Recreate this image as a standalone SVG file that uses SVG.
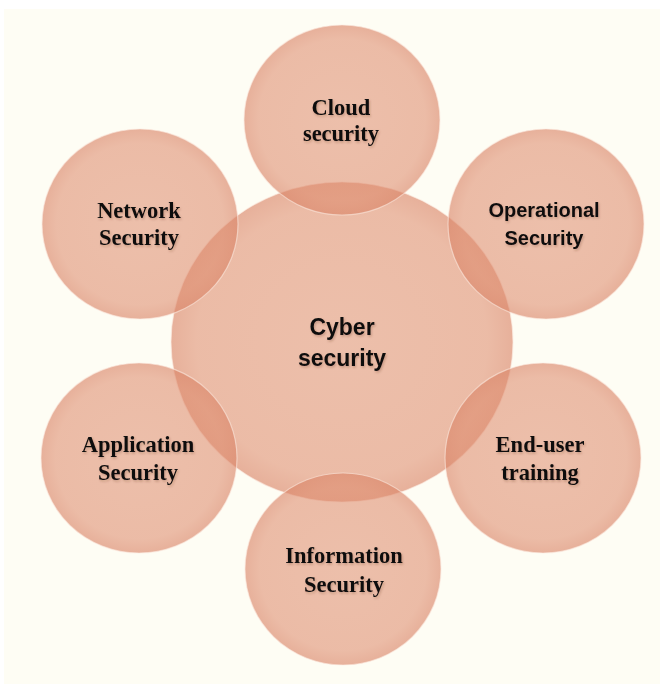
<svg xmlns="http://www.w3.org/2000/svg" width="660" height="684" viewBox="0 0 660 684">
  <style>
    .bubble { fill: url(#bubbleFill); stroke: #fbe9e0; stroke-width: 1.2; stroke-opacity: 0.6; }
    .serif { font-family: "Liberation Serif", "Times New Roman", serif; font-weight: bold; font-size: 22.5px; fill: #111; text-anchor: middle; }
    .sans { font-family: "Liberation Sans", Arial, sans-serif; font-weight: bold; font-size: 20px; fill: #111; text-anchor: middle; }
    .hub { font-size: 23px; }
    .lbl { filter: url(#textShadow); }
  </style>
  <defs>
    <radialGradient id="bubbleFill" cx="50%" cy="50%" r="50%">
      <stop offset="0%" stop-color="#de8c6e" stop-opacity="0.55"/>
      <stop offset="85%" stop-color="#de8c6e" stop-opacity="0.58"/>
      <stop offset="100%" stop-color="#da8568" stop-opacity="0.64"/>
    </radialGradient>
    <filter id="textShadow" x="-10%" y="-20%" width="130%" height="150%">
      <feDropShadow dx="1" dy="1.5" stdDeviation="1" flood-color="#5a2a1a" flood-opacity="0.28"/>
    </filter>
  </defs>

  <!-- page background -->
  <rect x="0" y="0" width="660" height="684" fill="#ffffff"/>
  <rect x="4" y="9" width="656" height="675" fill="#fefdf4"/>

  <!-- connectors: none, the topics touch the hub directly -->
  <g id="connectors"/>

  <!-- hub -->
  <g id="cyber-security">
    <ellipse class="bubble" cx="342" cy="342" rx="171" ry="160"/>
  </g>

  <!-- topic bubbles -->
  <g id="cloud-security">
    <ellipse class="bubble" cx="342" cy="120" rx="98" ry="95"/>
  </g>
  <g id="network-security">
    <ellipse class="bubble" cx="140" cy="224" rx="98" ry="95"/>
  </g>
  <g id="operational-security">
    <ellipse class="bubble" cx="546" cy="224" rx="98" ry="95"/>
  </g>
  <g id="application-security">
    <ellipse class="bubble" cx="139" cy="458" rx="98" ry="95"/>
  </g>
  <g id="end-user-training">
    <ellipse class="bubble" cx="543" cy="458" rx="98" ry="95"/>
  </g>
  <g id="information-security">
    <ellipse class="bubble" cx="343" cy="569" rx="98" ry="96"/>
  </g>

  <!-- labels -->
  <g class="lbl">
    <text class="sans hub" x="342" y="335">Cyber</text>
    <text class="sans hub" x="342" y="366">security</text>

    <text class="serif" x="341" y="115">Cloud</text>
    <text class="serif" x="341" y="141">security</text>

    <text class="serif" x="139" y="218">Network</text>
    <text class="serif" x="139" y="245">Security</text>

    <text class="sans" x="544" y="217">Operational</text>
    <text class="sans" x="544" y="245">Security</text>

    <text class="serif" x="138" y="452">Application</text>
    <text class="serif" x="138" y="480">Security</text>

    <text class="serif" x="540" y="452">End-user</text>
    <text class="serif" x="540" y="480">training</text>

    <text class="serif" x="344" y="563">Information</text>
    <text class="serif" x="344" y="592">Security</text>
  </g>
</svg>
